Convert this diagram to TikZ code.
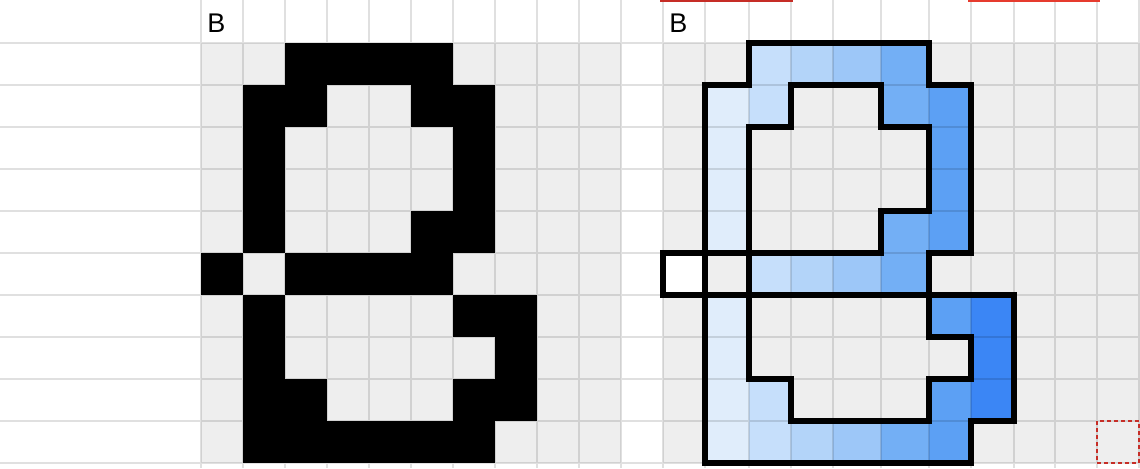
\documentclass[tikz,border=0pt]{standalone}
\usepackage{fontspec}
\setsansfont{Liberation Sans}
\definecolor{cellgray}{HTML}{EEEEEE}
\definecolor{shadeA}{HTML}{E0EDFB}
\definecolor{shadeB}{HTML}{C6DFFB}
\definecolor{shadeC}{HTML}{B3D4F9}
\definecolor{shadeD}{HTML}{9DC7F8}
\definecolor{shadeE}{HTML}{73AFF5}
\definecolor{shadeF}{HTML}{5CA0F4}
\definecolor{shadeG}{HTML}{3B86F5}
\definecolor{markdark}{HTML}{C62D26}
\definecolor{marklight}{HTML}{E63B2E}
\tikzset
{
    gridline/.style = {draw=black, draw opacity=0.12, line width=1pt},
    pixel/.style    = {fill=black},
    contour/.style  = {draw=black, line width=2.6pt, line join=miter},
    letter/.style   = {anchor=base west, inner sep=0pt, font=\sffamily\fontsize{13.5}{16}\selectfont},
    topmark/.style  = {draw=#1, line width=1pt},
    target/.style   = {draw=markdark, line width=1.3pt, dash pattern=on 2pt off 1.5pt}
}

\begin{document}
\begin{tikzpicture}[x=0.5pt, y=-0.5pt]

   \newcommand\CELLW{42}
   \newcommand\LEFTX{201}
   \newcommand\TOPY{43}

   \useasboundingbox (0,0) rectangle (1140,468);
   \fill[white]    (0,0)            rectangle (1140,468);
   \fill[cellgray] (\LEFTX,\TOPY)   rectangle (621,463);
   \fill[cellgray] (663,\TOPY)      rectangle (1140,463);

   \foreach \c/\rows/\xa/\xb/\shade in {
        0/{5}/663/705/white,
        1/{1,2,3,4,6,7,8,9}/705/749/shadeA,
        2/{0,1,5,8,9}/749/791/shadeB,
        3/{0,5,9}/791/833/shadeC,
        4/{0,5,9}/833/881/shadeD,
        5/{0,1,4,5,9}/881/929/shadeE,
        6/{1,2,3,4,6,8,9}/929/971/shadeF,
        7/{6,7,8}/971/1014/shadeG}
   {
      \foreach \r in \rows
      {
         \fill[pixel]  ({\LEFTX+\CELLW*\c},{\TOPY+\CELLW*\r}) rectangle ++(\CELLW,\CELLW);
         \fill[\shade] (\xa,{\TOPY+\CELLW*\r})                 rectangle (\xb,{\TOPY+\CELLW*(\r+1)});
      }
   }

   \draw[gridline]
      \foreach \y in {43,85,127,169,211,253,295,337,379,421,463} {(0,\y) -- (1140,\y)}
      \foreach \x in {201,243,285,327,369,411,453,495,537,579,621,663,705,749,791,833,881,929,971,1014,1055,1097,1139} {(\x,0) -- (\x,468)};

   \draw[contour] (705,463) -- (705,85) -- (749,85) -- (749,43) -- (929,43) -- (929,85) -- (971,85) -- (971,253)
                  -- (929,253) -- (929,295) -- (1014,295) -- (1014,421) -- (971,421) -- (971,463) -- cycle;
   \draw[contour] (749,127) -- (791,127) -- (791,85) -- (881,85) -- (881,127) -- (929,127) -- (929,211)
                  -- (881,211) -- (881,253) -- (749,253) -- cycle;
   \draw[contour] (749,295) -- (929,295) -- (929,337) -- (971,337) -- (971,379) -- (929,379) -- (929,421)
                  -- (791,421) -- (791,379) -- (749,379) -- cycle;
   \draw[contour] (663,253) rectangle (705,295);
   \draw[contour] (705,253) rectangle (749,295);

   \node (bl) [letter] at (207,32) {B};
   \node (br) [letter] at (669,32) {B};

   \draw[topmark=markdark]  (660,1) -- (793,1);
   \draw[topmark=marklight] (968,1) -- (1100,1);
   \draw[target] (1097,421) rectangle (1139,463);
\end{tikzpicture}
\end{document}
